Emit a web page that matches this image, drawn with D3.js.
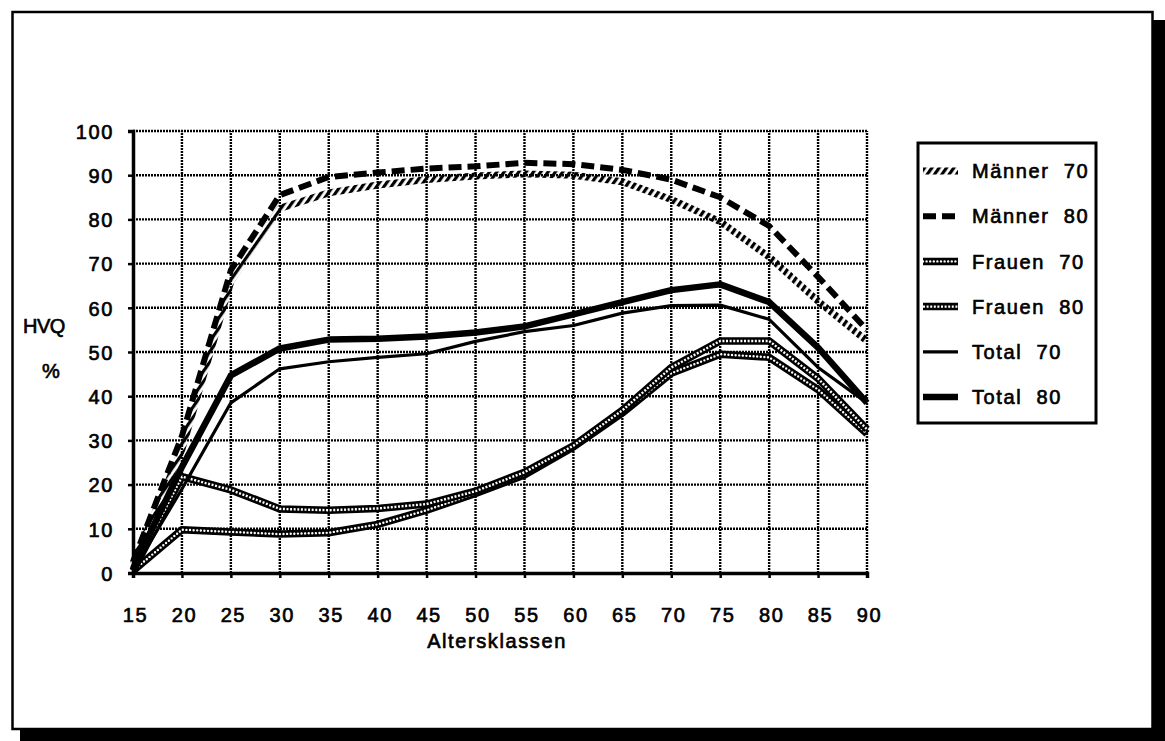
<!DOCTYPE html>
<html>
<head>
<meta charset="utf-8">
<script src="https://cdn.jsdelivr.net/npm/d3@7/dist/d3.min.js"></script>
<style>
  html, body { margin: 0; padding: 0; background: #fff; }
  svg text { font-family: "Liberation Sans", Arial, Helvetica, sans-serif; fill: #000; }
</style>
</head>
<body>
<svg id="chart" width="1165" height="741"></svg>
<script>
// Age classes (x axis) and HVQ shares in percent per series
const ages = [15, 20, 25, 30, 35, 40, 45, 50, 55, 60, 65, 70, 75, 80, 85, 90];
const maenner70 = [2, 28, 66, 82.5, 86, 87.8, 89, 89.8, 90.3, 90, 88.5, 84.5, 79.5, 71.5, 61.5, 52.5];
const maenner80 = [2.5, 31, 68.5, 85.5, 89.6, 90.6, 91.5, 92, 92.8, 92.5, 91.2, 89, 85, 78.5, 67, 55];
const frauen70 = [0.5, 9.8, 9.3, 8.8, 9.1, 11, 14.2, 18, 22.2, 28.5, 36.2, 45.2, 49.5, 48.8, 41.5, 31.5];
const frauen80 = [0.5, 21.8, 18.8, 14.5, 14.2, 14.6, 15.6, 18.5, 22.8, 28.8, 36.8, 46.5, 52.5, 52.5, 44, 32.5];
const total70 = [0.5, 19, 38.5, 46.2, 47.8, 48.8, 49.6, 52.4, 54.6, 56, 58.8, 60.5, 60.6, 57.4, 46.5, 38.5];
const total80 = [1, 24, 44.7, 50.8, 52.8, 53, 53.5, 54.4, 55.8, 58.5, 61.3, 64, 65.3, 61.3, 51, 38.5];
const yTicks = [0, 10, 20, 30, 40, 50, 60, 70, 80, 90, 100];
const seriesNames = ["Männer 70", "Männer 80", "Frauen 70", "Frauen 80", "Total 70", "Total 80"];

const svg = d3.select("#chart");
const FONT = 20, LS = "1.6px", TEXT_STROKE = 0.65;

// frame with drop shadow
svg.append("rect").attr("x", 20).attr("y", 20).attr("width", 1145).attr("height", 721).attr("fill", "#000");
svg.append("rect").attr("x", 12.5).attr("y", 12).attr("width", 1140).attr("height", 717)
  .attr("fill", "#fff").attr("stroke", "#000").attr("stroke-width", 2.5);

const defs = svg.append("defs");
// diagonal hatching used as stroke paint
defs.append("pattern").attr("id", "hatch").attr("patternUnits", "userSpaceOnUse")
  .attr("width", 6).attr("height", 6).attr("patternTransform", "rotate(35)")
  .append("rect").attr("width", 3.2).attr("height", 6).attr("fill", "#000");

const x = d3.scaleLinear().domain([15, 90]).range([133, 867]);
const y = d3.scaleLinear().domain([0, 100]).range([573, 131]);

// grid
const grid = svg.append("g");
grid.selectAll("line.h").data(yTicks.filter(d => d > 0)).join("line")
  .attr("x1", x(15)).attr("x2", x(90)).attr("y1", d => y(d)).attr("y2", d => y(d))
  .attr("stroke", "#000").attr("stroke-width", 2.4).attr("stroke-dasharray", "2,1");
grid.selectAll("line.v").data(ages.filter(d => d > 15)).join("line")
  .attr("y1", y(0)).attr("y2", y(100)).attr("x1", d => x(d)).attr("x2", d => x(d))
  .attr("stroke", "#000").attr("stroke-width", 2.4).attr("stroke-dasharray", "2,1");

const line = d3.line().x((d, i) => x(ages[i])).y(d => y(d));

// stroke layers per series
const styles = {
  "Männer 70": [{ stroke: "url(#hatch)", w: 7 }],
  "Männer 80": [{ stroke: "#000", w: 6, dash: "13,6" }],
  "Frauen 70": [{ stroke: "#000", w: 7.5 }, { stroke: "#fff", w: 2.4, dash: "0,3.6", cap: "round" }],
  "Frauen 80": [{ stroke: "#000", w: 7.5 }, { stroke: "#fff", w: 2.4, dash: "2,1.6" }],
  "Total 70": [{ stroke: "#000", w: 3.2 }],
  "Total 80": [{ stroke: "#000", w: 6.5 }]
};
const dataBy = {
  "Männer 70": maenner70, "Männer 80": maenner80,
  "Frauen 70": frauen70, "Frauen 80": frauen80,
  "Total 70": total70, "Total 80": total80
};

const plot = svg.append("g");
["Frauen 70", "Frauen 80", "Total 70", "Total 80", "Männer 70", "Männer 80"].forEach(name => {
  styles[name].forEach(l => {
    plot.append("path").datum(dataBy[name]).attr("d", line)
      .attr("fill", "none").attr("stroke", l.stroke).attr("stroke-width", l.w)
      .attr("stroke-dasharray", l.dash || null)
      .attr("stroke-linecap", l.cap || "butt").attr("stroke-linejoin", "round");
  });
});

// axes
const yAxis = svg.append("g").attr("transform", `translate(${x(15)},0)`)
  .call(d3.axisLeft(y).tickValues(yTicks).tickSize(5).tickPadding(14).tickFormat(d3.format("d")));
const xAxis = svg.append("g").attr("transform", `translate(0,${y(0)})`)
  .call(d3.axisBottom(x).tickValues(ages).tickSize(5).tickPadding(30).tickFormat(d3.format("d")));
[yAxis, xAxis].forEach(a => {
  a.select(".domain").attr("stroke", "#000").attr("stroke-width", 3.5);
  a.selectAll(".tick line").attr("stroke", "#000").attr("stroke-width", 2.5);
  a.selectAll(".tick text").attr("font-size", FONT).style("letter-spacing", LS)
    .attr("stroke", "#000").attr("stroke-width", TEXT_STROKE)
    .attr("font-family", "'Liberation Sans', Arial, sans-serif");
});
xAxis.selectAll(".tick text").attr("dx", "0.1em");
yAxis.selectAll(".tick text").attr("dy", "0.36em");

// axis titles
svg.append("text").attr("x", 497).attr("y", 648).attr("text-anchor", "middle")
  .attr("font-size", FONT).style("letter-spacing", LS).attr("stroke", "#000").attr("stroke-width", TEXT_STROKE)
  .text("Altersklassen");
svg.append("text").attr("x", 44).attr("y", 333).attr("text-anchor", "middle")
  .attr("font-size", FONT).style("letter-spacing", "-0.5px").attr("stroke", "#000").attr("stroke-width", TEXT_STROKE)
  .text("HVQ");
svg.append("text").attr("x", 51).attr("y", 378).attr("text-anchor", "middle")
  .attr("font-size", FONT).attr("stroke", "#000").attr("stroke-width", TEXT_STROKE)
  .text("%");

// legend
const lg = svg.append("g");
lg.append("rect").attr("x", 918).attr("y", 143).attr("width", 178).attr("height", 280)
  .attr("fill", "#fff").attr("stroke", "#000").attr("stroke-width", 3);
const rowY = d3.scalePoint().domain(seriesNames).range([171, 397]);
seriesNames.forEach(name => {
  const yy = rowY(name);
  styles[name].forEach(l => {
    lg.append("line").attr("x1", 923).attr("x2", 958).attr("y1", yy).attr("y2", yy)
      .attr("stroke", l.stroke).attr("stroke-width", l.w).attr("stroke-dasharray", l.dash || null)
      .attr("stroke-linecap", l.cap || "butt");
  });
  lg.append("text").attr("x", 972).attr("y", yy).attr("dy", "0.36em")
    .attr("font-size", FONT).style("letter-spacing", LS).attr("stroke", "#000").attr("stroke-width", TEXT_STROKE)
    .text(name.replace(" ", "\u00a0\u00a0"));
});
</script>
</body>
</html>
